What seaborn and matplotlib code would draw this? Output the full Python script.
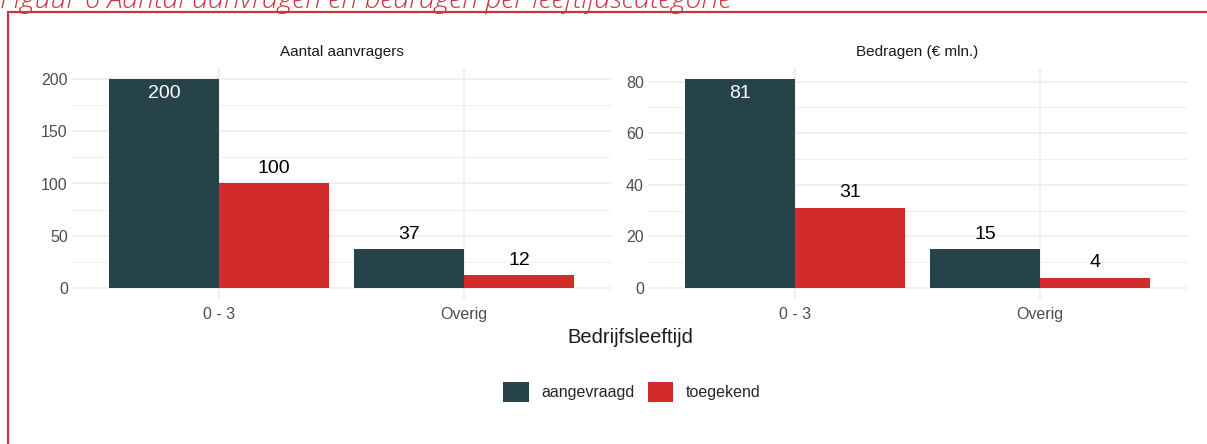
#!/usr/bin/env python3
"""Aantal aanvragen en bedragen per leeftijdscategorie."""
import pandas as pd
import matplotlib
matplotlib.use("Agg")
import matplotlib.pyplot as plt
from matplotlib.lines import Line2D
from matplotlib.patches import Patch
import seaborn as sns

# --- DATA ---
categories = ["0 - 3", "Overig"]
series = ["aangevraagd", "toegekend"]
aanvragers_aangevraagd = [200, 37]
aanvragers_toegekend = [100, 12]
bedragen_aangevraagd = [81, 15]
bedragen_toegekend = [31, 4]
panel_titles = ["Aantal aanvragers", "Bedragen (\u20ac mln.)"]

# --- STYLE ---
DARK = "#264349"
RED = "#D22B2B"
GRID = "#EBEBEB"
TICK = "#4D4D4D"
BORDER = "#C8373D"

sns.set_theme(style="white")
plt.rcParams["font.family"] = ["Liberation Sans", "DejaVu Sans"]


def make_frame(aangevraagd, toegekend):
    rows = []
    for cat, a, t in zip(categories, aangevraagd, toegekend):
        rows.append({"cat": cat, "serie": series[0], "waarde": a})
        rows.append({"cat": cat, "serie": series[1], "waarde": t})
    return pd.DataFrame(rows)


def draw_panel(ax, df, title, major, minor, top):
    sns.barplot(data=df, x="cat", y="waarde", hue="serie", order=categories,
                hue_order=series, palette=[DARK, RED], width=0.9, gap=0,
                saturation=1, linewidth=0, legend=False, ax=ax, zorder=3)
    ax.set_xlim(-0.6, 1.6)
    ax.set_ylim(-0.05 * top, 1.05 * top)
    ax.set_yticks(major)
    ax.set_yticks(minor, minor=True)
    ax.grid(True, which="major", color=GRID, linewidth=1.1, zorder=0)
    ax.grid(True, which="minor", axis="y", color=GRID, linewidth=0.6, zorder=0)
    ax.tick_params(axis="both", which="both", length=0, labelsize=11.5,
                   labelcolor=TICK)
    ax.tick_params(axis="x", pad=6)
    ax.tick_params(axis="y", pad=3)
    for s in ax.spines.values():
        s.set_visible(False)
    ax.set_xlabel("")
    ax.set_ylabel("")
    ax.set_title(title, fontsize=11, color="#1A1A1A", pad=9)

    # value labels: tallest bar gets a white label inside, the rest above
    for bar in ax.patches:
        h = bar.get_height()
        if h <= 0 and bar.get_width() == 0:
            continue
        xc = bar.get_x() + bar.get_width() / 2
        if h == top:
            ax.annotate(f"{h:.0f}", (xc, h), xytext=(0, -10.5), textcoords="offset points",
                        ha="center", va="center", fontsize=14, color="white", zorder=4)
        else:
            ax.annotate(f"{h:.0f}", (xc, h), xytext=(0, 11), textcoords="offset points",
                        ha="center", va="center", fontsize=14, color="black", zorder=4)


W, H = 1207, 444
fig = plt.figure(figsize=(W / 100, H / 100), dpi=100)

ax1 = fig.add_axes([72 / W, 1 - 298.5 / H, 539 / W, 230 / H])
ax2 = fig.add_axes([648 / W, 1 - 298.5 / H, 539 / W, 230 / H])

draw_panel(ax1, make_frame(aanvragers_aangevraagd, aanvragers_toegekend),
           panel_titles[0], [0, 50, 100, 150, 200], [25, 75, 125, 175],
           max(aanvragers_aangevraagd))
draw_panel(ax2, make_frame(bedragen_aangevraagd, bedragen_toegekend),
           panel_titles[1], [0, 20, 40, 60, 80], [10, 30, 50, 70],
           max(bedragen_aangevraagd))

fig.text(630 / W, 1 - 337 / H, "Bedrijfsleeftijd", ha="center", va="center",
         fontsize=14.5, color="#1A1A1A")

handles = [Patch(facecolor=DARK, edgecolor="none"), Patch(facecolor=RED, edgecolor="none")]
fig.legend(handles, series, loc="center", bbox_to_anchor=(632 / W, 1 - 392 / H),
           ncol=2, frameon=False, fontsize=11.5, handlelength=1.6, handleheight=1.6,
           handletextpad=0.8, columnspacing=0.8)

# screenshot frame + clipped caption (the source screenshot cuts it off at the top)
fig.add_artist(Line2D([8 / W, 1], [1 - 12 / H, 1 - 12 / H], color=BORDER,
                      linewidth=1.6, transform=fig.transFigure))
fig.add_artist(Line2D([8 / W, 8 / W], [0, 1 - 12 / H], color=BORDER,
                      linewidth=1.6, transform=fig.transFigure))
fig.text(0.0, 1 - 8 / H, "Figuur 6 Aantal aanvragen en bedragen per leeftijdscategorie",
         ha="left", va="baseline", fontsize=20.5, style="italic", weight="light",
         color=BORDER, family=["Open Sans", "DejaVu Sans"])

fig.savefig("out.png", dpi=100)
